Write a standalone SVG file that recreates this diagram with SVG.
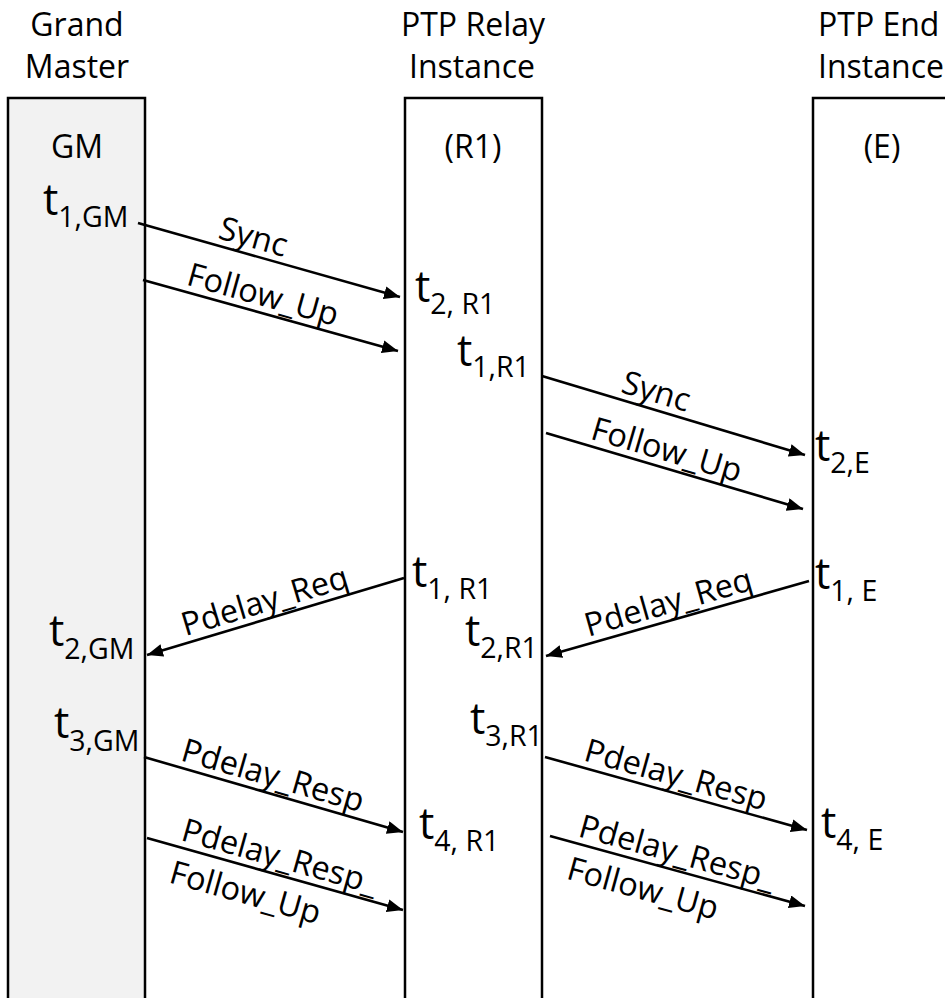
<svg xmlns="http://www.w3.org/2000/svg" width="945" height="998" viewBox="0 0 945 998">
  <defs>
    <marker id="head" markerUnits="userSpaceOnUse" markerWidth="18" markerHeight="14" refX="16" refY="6.5" orient="auto">
      <path d="M0,0 L16,6.5 L0,13 z" fill="#000"/>
    </marker>
    <style>
      text { font-family: "Open Sans", "Noto Sans", "Liberation Sans", sans-serif; fill: #000; }
      .title { font-size: 32px; text-anchor: middle; }
      .tag { font-size: 32px; text-anchor: middle; }
      .lbl { font-size: 32.5px; }
      .t { font-size: 43px; }
      .sub { font-size: 28.5px; }
      .life { stroke: #000; stroke-width: 2.5; }
      .msg { stroke: #000; stroke-width: 2.6; fill: none; marker-end: url(#head); }
    </style>
  </defs>

  <rect width="945" height="998" fill="#fff"/>

  <!-- Grand Master lifeline -->
  <g id="grand-master">
    <text class="title" x="77" y="36">Grand</text>
    <text class="title" x="77" y="78">Master</text>
    <rect class="life" x="8" y="98" width="137" height="920" fill="#f2f2f2"/>
    <text class="tag" x="77" y="158">GM</text>
    <text x="43" y="215"><tspan class="t">t</tspan><tspan class="sub" dy="12">1,GM</tspan></text>
    <text x="49" y="646"><tspan class="t">t</tspan><tspan class="sub" dy="13">2,GM</tspan></text>
    <text x="54" y="738"><tspan class="t">t</tspan><tspan class="sub" dy="13">3,GM</tspan></text>
  </g>

  <!-- PTP Relay Instance lifeline -->
  <g id="ptp-relay">
    <text class="title" x="473" y="36">PTP Relay</text>
    <text class="title" x="472" y="78">Instance</text>
    <rect class="life" x="405" y="98" width="137" height="920" fill="#fff"/>
    <text class="tag" x="473" y="158">(R1)</text>
    <text x="415" y="302"><tspan class="t">t</tspan><tspan class="sub" dy="12">2, R1</tspan></text>
    <text x="457" y="366"><tspan class="t">t</tspan><tspan class="sub" dy="11">1,R1</tspan></text>
    <text x="412" y="587"><tspan class="t">t</tspan><tspan class="sub" dy="12">1, R1</tspan></text>
    <text x="465" y="646"><tspan class="t">t</tspan><tspan class="sub" dy="12">2,R1</tspan></text>
    <text x="470" y="734"><tspan class="t">t</tspan><tspan class="sub" dy="12">3,R1</tspan></text>
    <text x="419" y="839"><tspan class="t">t</tspan><tspan class="sub" dy="12">4, R1</tspan></text>
  </g>

  <!-- PTP End Instance lifeline -->
  <g id="ptp-end">
    <text class="title" x="818" y="36" style="text-anchor:start">PTP End</text>
    <text class="title" x="818" y="78" style="text-anchor:start">Instance</text>
    <rect class="life" x="813" y="98" width="160" height="920" fill="#fff"/>
    <text class="tag" x="882" y="158">(E)</text>
    <text x="815" y="461"><tspan class="t">t</tspan><tspan class="sub" dy="12">2,E</tspan></text>
    <text x="815" y="589"><tspan class="t">t</tspan><tspan class="sub" dy="12">1, E</tspan></text>
    <text x="821" y="838"><tspan class="t">t</tspan><tspan class="sub" dy="12">4, E</tspan></text>
  </g>

  <!-- Messages -->
  <g id="connectors">
    <line class="msg" x1="138" y1="223" x2="400" y2="297"/>
    <line class="msg" x1="143" y1="280" x2="398" y2="351"/>
    <line class="msg" x1="542" y1="376" x2="805" y2="455"/>
    <line class="msg" x1="546" y1="433" x2="803" y2="509"/>
    <line class="msg" x1="404" y1="578" x2="147" y2="655"/>
    <line class="msg" x1="809" y1="581" x2="546" y2="656"/>
    <line class="msg" x1="144" y1="757" x2="403" y2="832"/>
    <line class="msg" x1="147" y1="838" x2="403" y2="910"/>
    <line class="msg" x1="545" y1="757" x2="807" y2="830"/>
    <line class="msg" x1="550" y1="836" x2="805" y2="906"/>

    <g transform="translate(138,223) rotate(15.77)"><text class="lbl" x="80" y="-7">Sync</text></g>
    <g transform="translate(143,280) rotate(15.56)"><text class="lbl" x="42" y="-7">Follow_Up</text></g>
    <g transform="translate(542,376) rotate(16.72)"><text class="lbl" x="79" y="-7">Sync</text></g>
    <g transform="translate(546,433) rotate(16.47)"><text class="lbl" x="43" y="-7">Follow_Up</text></g>
    <g transform="translate(147,655) rotate(-16.68)"><text class="lbl" x="42" y="-7">Pdelay_Req</text></g>
    <g transform="translate(546,656) rotate(-15.92)"><text class="lbl" x="46" y="-7">Pdelay_Req</text></g>
    <g transform="translate(144,757) rotate(16.15)"><text class="lbl" x="35" y="-7">Pdelay_Resp</text></g>
    <g transform="translate(147,838) rotate(15.71)">
      <text class="lbl" x="32" y="-7">Pdelay_Resp_</text>
      <text class="lbl" x="32" y="37">Follow_Up</text>
    </g>
    <g transform="translate(545,757) rotate(15.57)"><text class="lbl" x="37" y="-7">Pdelay_Resp</text></g>
    <g transform="translate(550,836) rotate(15.35)">
      <text class="lbl" x="26" y="-7">Pdelay_Resp_</text>
      <text class="lbl" x="26" y="37">Follow_Up</text>
    </g>
  </g>
</svg>
